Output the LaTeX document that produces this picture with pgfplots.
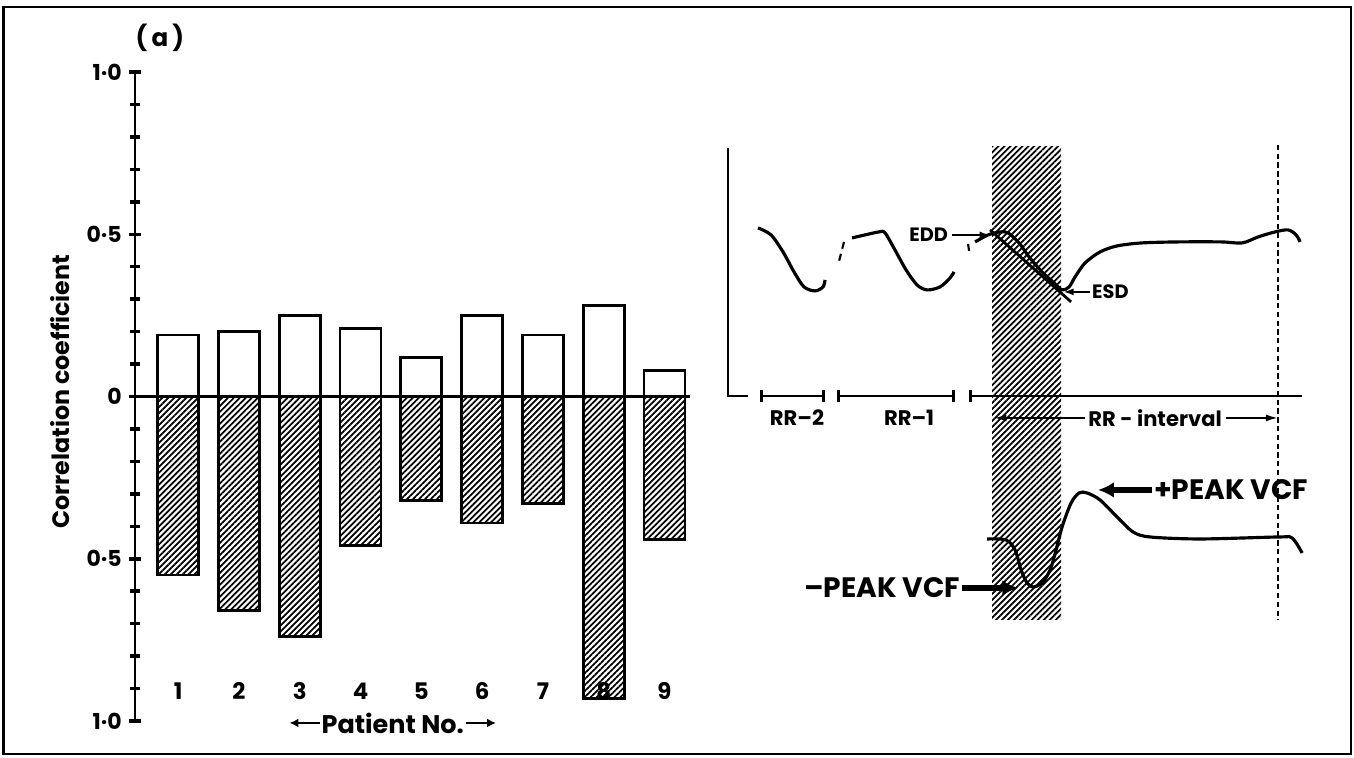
\documentclass[border=0pt]{standalone}
\usepackage{pgfplots}
\pgfplotsset{compat=1.18}
\usepackage{fontspec}
\setmainfont{Poppins}
\usetikzlibrary{patterns,patterns.meta,arrows.meta}
\newcommand\fs[1]{\fontsize{#1}{#1}\selectfont\bfseries}
\tikzset{hatch/.style={pattern={Lines[angle=45, distance=2.4pt, line width=1pt]}}}
\begin{document}
\begin{tikzpicture}
\useasboundingbox (0,0) rectangle (27.08,-15.14);
\draw[line width=1.4pt] (0.07,-0.14) rectangle (27.02,-15.08);

\begin{axis}[
  at={(2.7cm,-14.42cm)}, anchor=south west,
  scale only axis, width=11.1cm, height=12.98cm,
  xmin=0.29, xmax=9.42, ymin=-1, ymax=1,
  axis x line=middle, axis y line=left,
  axis line style={-, line width=1.6pt},
  xtick=\empty,
  ytick={-1,-0.5,0,0.5,1},
  yticklabels={1·0,0·5,0,0·5,1·0},
  minor y tick num=4,
  tick align=inside, ytick align=inside,
  major tick length=0.24cm, minor tick length=0.2cm,
  tick style={line width=2pt, black},
  major tick style={xshift=-0.12cm},
  minor tick style={xshift=-0.1cm},
  yticklabel style={font=\fs{12.5}, xshift=-4pt},
  clip=false,
]
\addplot[ybar, bar width=0.82cm, bar shift=0pt, fill=white, draw=black, line width=1.5pt]
  coordinates {(1,0.19)(2,0.20)(3,0.25)(4,0.21)(5,0.12)(6,0.25)(7,0.19)(8,0.28)(9,0.08)};
\addplot[ybar, bar width=0.82cm, bar shift=0pt, hatch, draw=black, line width=1.5pt]
  coordinates {(1,-0.55)(2,-0.66)(3,-0.74)(4,-0.46)(5,-0.32)(6,-0.39)(7,-0.33)(8,-0.93)(9,-0.44)};
\node[font=\fs{13}] at (axis cs:1,-0.907) {1};
\node[font=\fs{13}] at (axis cs:2,-0.907) {2};
\node[font=\fs{13}] at (axis cs:3,-0.907) {3};
\node[font=\fs{13}] at (axis cs:4,-0.907) {4};
\node[font=\fs{13}] at (axis cs:5,-0.907) {5};
\node[font=\fs{13}] at (axis cs:6,-0.907) {6};
\node[font=\fs{13}] at (axis cs:7,-0.907) {7};
\node[font=\fs{13}] at (axis cs:8,-0.907) {8};
\node[font=\fs{13}] at (axis cs:9,-0.907) {9};
\node[font=\fs{14.5}, inner sep=1pt] (pn) at (axis cs:4.53,-1.006) {Patient No.};
\draw[line width=1.2pt, -{Latex[length=5pt,width=5pt]}] (pn.west) -- ([xshift=-0.6cm]pn.west);
\draw[line width=1.2pt, -{Latex[length=5pt,width=5pt]}] (pn.east) -- ([xshift=0.6cm]pn.east);
\node[rotate=90, font=\fs{13.5}] at (axis cs:-0.94,0.015) {Correlation coefficient};
\node[font=\fs{14}] at (axis cs:0.70,1.105) {(\,a\,)};
\end{axis}

\begin{axis}[
  at={(14cm,-15.14cm)}, anchor=south west,
  x=0.02cm, y=0.02cm, xmin=700, xmax=1354, ymin=-757, ymax=0,
  hide axis, clip=false,
]
% hatched band
\addplot[draw=none, hatch]
  coordinates {(992,-147)(1061,-147)(1061,-620)(992,-620)(992,-147)};
% dashed vertical line
\addplot[line width=1.1pt, dash pattern=on 3pt off 2pt] coordinates {(1278,-145)(1278,-620)};
% axes
\addplot[line width=1.6pt] coordinates {(728,-148)(728,-396)(748,-396)};
\addplot[line width=1.6pt, arrows={Bar[width=7pt]-Bar[width=7pt]}] coordinates {(760,-396)(825,-396)};
\addplot[line width=1.6pt, arrows={Bar[width=7pt]-Bar[width=7pt]}] coordinates {(837,-396)(955,-396)};
\addplot[line width=1.6pt, arrows={Bar[width=7pt]-}] coordinates {(969,-396)(1302,-396)};
% beats
\addplot[smooth, line width=1.8pt] coordinates {(758,-228)(771,-235)(783,-252)(794,-272)(804,-287)(815,-291)(823,-287)(825,-280)};
\addplot[line width=1.2pt, dash pattern=on 4pt off 3pt] coordinates {(844,-242)(838,-265)};
\addplot[smooth, line width=1.8pt] coordinates {(852,-238)(865,-235)(879,-232)(885,-233)(896,-252)(906,-270)(917,-285)(927,-290)(940,-287)(950,-278)(954,-272)};
\addplot[line width=1.2pt] coordinates {(968,-244)(969,-251)};
\addplot[smooth, line width=1.8pt] coordinates {(975,-242)(988,-235)(1000,-232)(1008,-233)(1019,-243)(1029,-257)(1042,-272)(1054,-283)(1062,-290)(1069,-287)(1075,-277)(1085,-263)(1100,-252)(1117,-246)(1142,-243)(1179,-242)(1221,-242)(1242,-243)(1258,-237)(1275,-232)(1288,-230)(1296,-235)(1300,-242)};
\addplot[line width=1.6pt] coordinates {(990,-230)(1071,-302)};
% VCF curve
\addplot[smooth, line width=1.8pt] coordinates {(987,-539)(1006,-540)(1015,-550)(1021,-570)(1027,-583)(1033,-587)(1042,-583)(1050,-570)(1056,-550)(1062,-527)(1071,-503)(1079,-493)(1087,-493)(1100,-500)(1117,-517)(1133,-532)(1150,-537)(1200,-539)(1279,-537)(1292,-538)(1302,-553)};
% labels
\node[font=\fs{12}] at (axis cs:797,-418) {RR--2};
\node[font=\fs{12}] at (axis cs:909,-418) {RR--1};
\node[font=\fs{12}, inner sep=2pt] (rri) at (axis cs:1155,-418) {RR - interval};
\draw[line width=1.1pt, -{Latex[length=7pt,width=4pt]}] (rri.west) -- (axis cs:994,-418);
\draw[line width=1.1pt, -{Latex[length=7pt,width=4pt]}] (rri.east) -- (axis cs:1278,-418);
\node[font=\fs{11}, anchor=east, inner sep=1pt] at (axis cs:950,-235) {EDD};
\draw[line width=1.2pt, -{Latex[length=6pt,width=4pt]}] (axis cs:952,-235) -- (axis cs:990,-235);
\node[font=\fs{11}, anchor=west, inner sep=1pt] at (axis cs:1090,-292) {ESD};
\draw[line width=1.2pt, -{Latex[length=6pt,width=4pt]}] (axis cs:1090,-292) -- (axis cs:1063,-292);
\node[font=\fs{16}, anchor=west, inner sep=1pt] at (axis cs:1152,-490) {+PEAK VCF};
\draw[line width=3pt, -{Latex[length=9pt,width=9pt]}] (axis cs:1152,-490) -- (axis cs:1098,-490);
\node[font=\fs{16}, anchor=east, inner sep=1pt] at (axis cs:962,-588) {–PEAK VCF};
\draw[line width=3pt, -{Latex[length=9pt,width=9pt]}] (axis cs:962,-588) -- (axis cs:1018,-588);
\end{axis}
\end{tikzpicture}
\end{document}
